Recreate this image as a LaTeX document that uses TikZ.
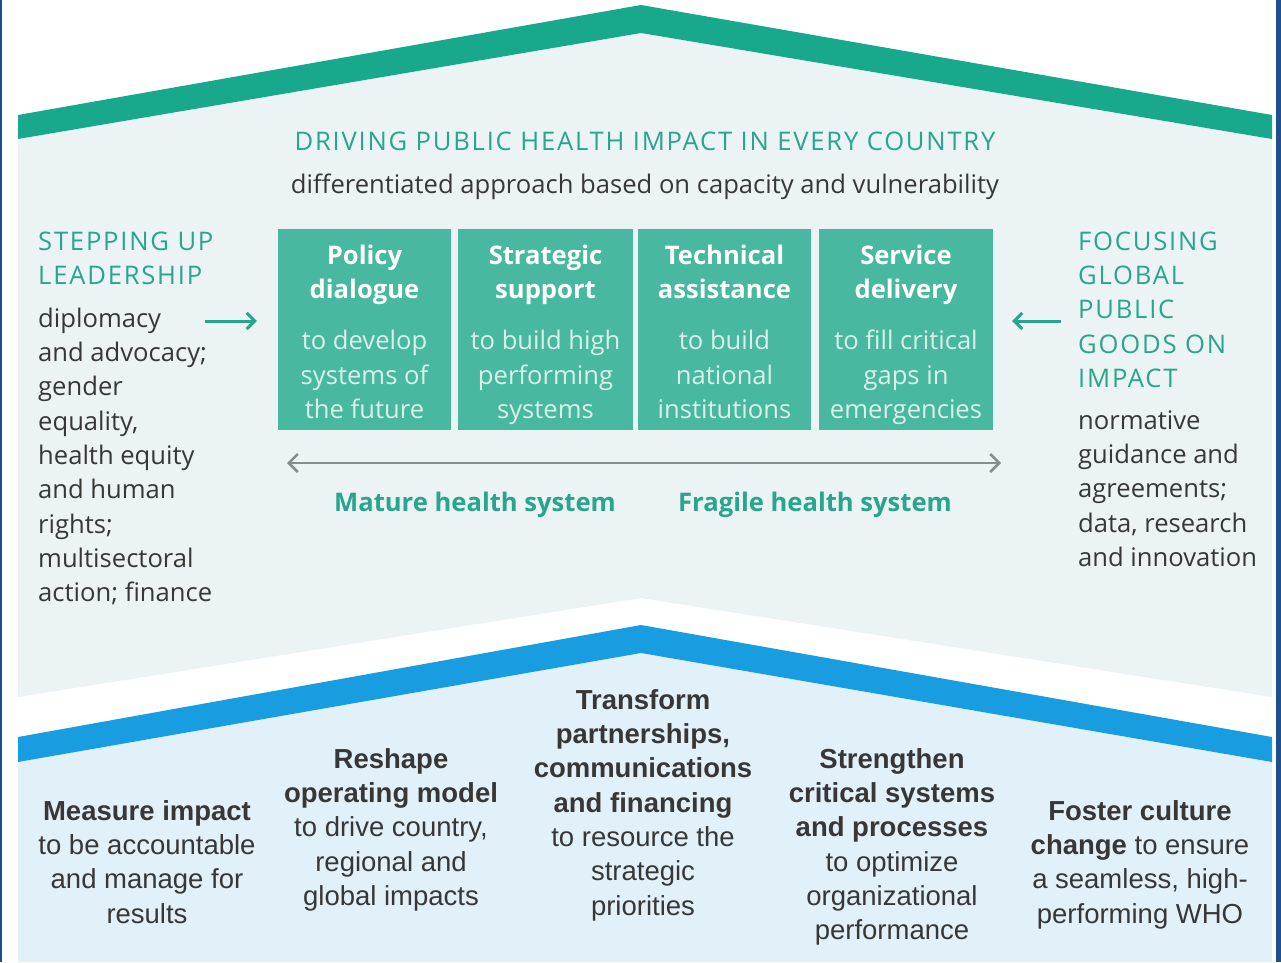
\documentclass[tikz,border=0pt]{standalone}
\usepackage{fontspec}
\setmainfont{Open Sans}
\newfontfamily\capsf{Open Sans}[LetterSpace=7]
\newfontfamily\botf{Liberation Sans}
\usetikzlibrary{arrows.meta}
\definecolor{roofteal}{RGB}{24,168,140}
\definecolor{boxteal}{RGB}{72,184,160}
\definecolor{tealtext}{RGB}{40,165,140}
\definecolor{graybg}{RGB}{236,243,244}
\definecolor{bluebar}{RGB}{25,157,225}
\definecolor{bluebg}{RGB}{226,240,250}
\definecolor{darktext}{RGB}{55,55,55}
\definecolor{arrowgray}{RGB}{135,140,140}
\definecolor{boxbody}{RGB}{218,241,234}
\definecolor{edgeblue}{RGB}{30,80,140}
\newcommand\fstrut{\rule{0pt}{20pt}}
\newcommand\bstrut{\rule{0pt}{22pt}}
\tikzset{
  topfont/.style={font=\fontsize{25.6}{34.3}\selectfont},
  capsblock/.style={font=\capsf\fontsize{25.6}{34.3}\selectfont, text=tealtext, inner sep=0pt, align=left, anchor=north west},
  bodyblock/.style={topfont, text=darktext, inner sep=0pt, align=left, anchor=north west},
  stratbox/.style={fill=boxteal, draw=none, minimum width=173pt, minimum height=201pt, inner sep=0pt},
  boxtext/.style={topfont, text=boxbody, inner sep=0pt, align=center, anchor=north},
  systext/.style={font=\bfseries\fontsize{25.6}{34.3}\selectfont, text=tealtext, inner sep=0pt, anchor=base},
  botcol/.style={font=\botf\fontsize{27.5}{34.3}\selectfont, text=darktext, inner sep=0pt, align=center, anchor=north},
  tealarrow/.style={draw=tealtext, line width=3pt, -{Straight Barb[length=8pt,width=16pt]}},
  grayarrow/.style={draw=arrowgray, line width=2.5pt, {Straight Barb[length=9pt,width=18pt]}-{Straight Barb[length=9pt,width=18pt]}}
}
\begin{document}
\begin{tikzpicture}[x=1pt,y=-1pt]
\useasboundingbox (0,0) rectangle (1281,962);
\fill[white] (0,0) rectangle (1281,962);
% upper area
\fill[graybg] (18,139) -- (641,33) -- (1272,139) -- (1272,697) -- (641,598) -- (18,697) -- cycle;
\fill[roofteal] (18,115) -- (641,5) -- (1272,115) -- (1272,139) -- (641,33) -- (18,139) -- cycle;
% lower area
\fill[bluebg] (18,762) -- (641,653) -- (1272,762) -- (1272,962) -- (18,962) -- cycle;
\fill[bluebar] (18,737) -- (641,625) -- (1272,737) -- (1272,762) -- (641,653) -- (18,762) -- cycle;
% side edges
\fill[edgeblue] (0,0) rectangle (2,962);
\fill[edgeblue] (1276,0) rectangle (1281,962);

% headings
\node[font=\capsf\fontsize{25.6}{30}\selectfont, text=tealtext, inner sep=0pt, anchor=base] (drive) at (645,150) {DRIVING PUBLIC HEALTH IMPACT IN EVERY COUNTRY};
\node[topfont, text=darktext, inner sep=0pt, anchor=base] (diff) at (645,193) {differentiated approach based on capacity and vulnerability};

% left column
\node[capsblock] (lead) at (38,230) {\fstrut STEPPING UP\\LEADERSHIP};
\node[bodyblock] (leadtx) at (38,307) {\fstrut diplomacy\\and advocacy;\\gender\\equality,\\health equity\\and human\\rights;\\multisectoral\\action; finance};

% right column
\node[capsblock] (glob) at (1078,230) {\fstrut FOCUSING\\GLOBAL\\PUBLIC\\GOODS ON\\IMPACT};
\node[bodyblock] (globtx) at (1078,409) {\fstrut normative\\guidance and\\agreements;\\data, research\\and innovation};

% boxes
\node[stratbox, minimum width=173pt] (b1) at (364.5,329.5) {};
\node[stratbox, minimum width=175pt] (b2) at (545.5,329.5) {};
\node[stratbox, minimum width=173pt] (b3) at (724.5,329.5) {};
\node[stratbox, minimum width=174pt] (b4) at (906,329.5) {};
\node[boxtext] (t1) at (364.5,244) {\fstrut\textcolor{white}{\bfseries Policy}\\\textcolor{white}{\bfseries dialogue}\\[17pt]to develop\\systems of\\the future};
\node[boxtext] (t2) at (545.5,244) {\fstrut\textcolor{white}{\bfseries Strategic}\\\textcolor{white}{\bfseries support}\\[17pt]to build high\\performing\\systems};
\node[boxtext] (t3) at (724.5,244) {\fstrut\textcolor{white}{\bfseries Technical}\\\textcolor{white}{\bfseries assistance}\\[17pt]to build\\national\\institutions};
\node[boxtext] (t4) at (906,244) {\fstrut\textcolor{white}{\bfseries Service}\\\textcolor{white}{\bfseries delivery}\\[17pt]to fill critical\\gaps in\\emergencies};

% arrows
\coordinate (la) at (205,321);
\coordinate (ra) at (1061,321);
\draw[tealarrow] (la) -- ([xshift=-21pt]b1.west |- la);
\draw[tealarrow] (ra) -- ([xshift=19pt]b4.east |- ra);
\coordinate (ga) at (287,463);
\coordinate (gb) at (1001,463);
\draw[grayarrow] (ga) -- (gb);

\node[systext] (mature) at (475,511) {Mature health system};
\node[systext] (fragile) at (815,511) {Fragile health system};

% bottom columns
\node[botcol] (c1) at (147,798) {\bstrut\textbf{Measure impact}\\to be accountable\\and manage for\\results};
\node[botcol] (c2) at (391,746) {\bstrut\textbf{Reshape}\\\textbf{operating model}\\to drive country,\\regional and\\global impacts};
\node[botcol] (c3) at (643,687) {\bstrut\textbf{Transform}\\\textbf{partnerships,}\\\textbf{communications}\\\textbf{and financing}\\to resource the\\strategic\\priorities};
\node[botcol] (c4) at (892,746) {\bstrut\textbf{Strengthen}\\\textbf{critical systems}\\\textbf{and processes}\\to optimize\\organizational\\performance};
\node[botcol] (c5) at (1140,798) {\bstrut\textbf{Foster culture}\\\textbf{change} to ensure\\a seamless, high-\\performing WHO};
\end{tikzpicture}
\end{document}
